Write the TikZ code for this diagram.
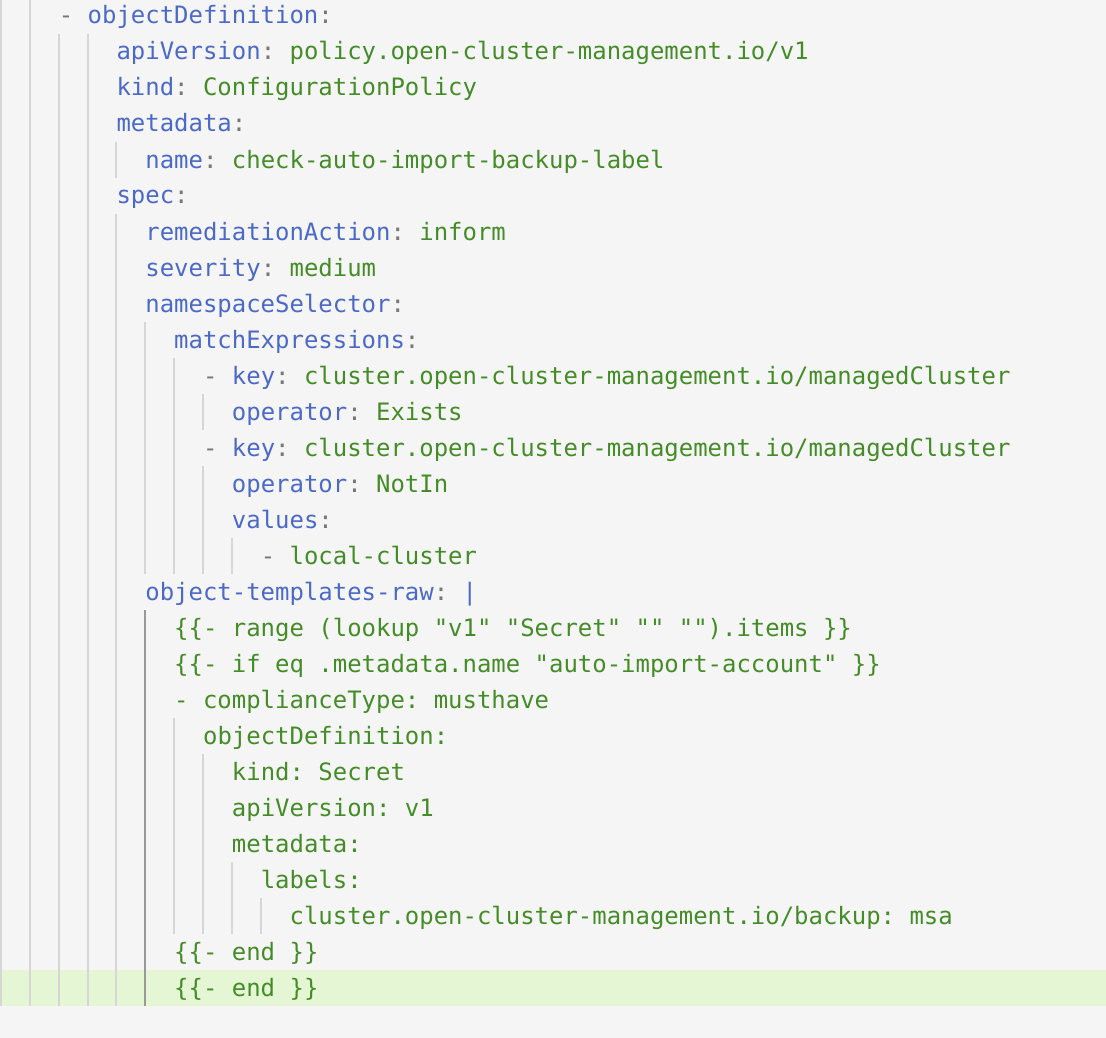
\documentclass[tikz,border=0pt]{standalone}
\usepackage{fontspec}
\setmonofont{DejaVu Sans Mono}
\usepackage{xcolor}
\definecolor{keyblue}{HTML}{4B69C6}
\definecolor{valgreen}{HTML}{448C27}
\definecolor{punct}{HTML}{777777}
\definecolor{bgcol}{HTML}{F5F5F5}
\definecolor{hlcol}{HTML}{E4F6D4}
\definecolor{guidecol}{HTML}{D6D6D6}
\definecolor{activecol}{HTML}{999999}
\newcommand{\codefont}{\ttfamily\fontsize{23.95}{36}\selectfont}
\newcommand{\kk}[1]{\textcolor{keyblue}{#1}\textcolor{punct}{:}}
\newcommand{\vv}[1]{\textcolor{valgreen}{#1}}
\newcommand{\dd}{\textcolor{punct}{-}}
\tikzset{codeline/.style={anchor=base west,inner sep=0pt,font=\codefont},
  guide/.style={guidecol,line width=2pt},
  activeguide/.style={activecol,line width=2pt}}

\begin{document}
\begin{tikzpicture}[x=1pt,y=-1pt]
\useasboundingbox (0,0) rectangle (1106,1038);
\fill[bgcol] (0,0) rectangle (1106,1038);
\fill[hlcol] (0,970) rectangle (1106,1006);
% indent guides: column / first row / last row
\foreach \c/\ra/\rb in {0/0/27,2/0/27,4/1/27,6/1/27,8/4/4,8/6/27,10/9/15,
  12/10/15,12/20/25,14/11/11,14/13/15,14/21/25,16/15/15,16/24/25,18/25/25}
  \draw[guide] ({1+\c*14.42},{-2+36*\ra}) -- ({1+\c*14.42},{34+36*\rb});
\draw[activeguide] ({1+10*14.42},610) -- ({1+10*14.42},1006);
% code lines
\node[codeline] (l0) at ({1+4*14.42},24) {\dd{} \kk{objectDefinition}};
\node[codeline] (l1) at ({1+8*14.42},60) {\kk{apiVersion} \vv{policy.open-cluster-management.io/v1}};
\node[codeline] (l2) at ({1+8*14.42},96) {\kk{kind} \vv{ConfigurationPolicy}};
\node[codeline] (l3) at ({1+8*14.42},132) {\kk{metadata}};
\node[codeline] (l4) at ({1+10*14.42},168) {\kk{name} \vv{check-auto-import-backup-label}};
\node[codeline] (l5) at ({1+8*14.42},204) {\kk{spec}};
\node[codeline] (l6) at ({1+10*14.42},240) {\kk{remediationAction} \vv{inform}};
\node[codeline] (l7) at ({1+10*14.42},276) {\kk{severity} \vv{medium}};
\node[codeline] (l8) at ({1+10*14.42},312) {\kk{namespaceSelector}};
\node[codeline] (l9) at ({1+12*14.42},348) {\kk{matchExpressions}};
\node[codeline] (l10) at ({1+14*14.42},384) {\dd{} \kk{key} \vv{cluster.open-cluster-management.io/managedCluster}};
\node[codeline] (l11) at ({1+16*14.42},420) {\kk{operator} \vv{Exists}};
\node[codeline] (l12) at ({1+14*14.42},456) {\dd{} \kk{key} \vv{cluster.open-cluster-management.io/managedCluster}};
\node[codeline] (l13) at ({1+16*14.42},492) {\kk{operator} \vv{NotIn}};
\node[codeline] (l14) at ({1+16*14.42},528) {\kk{values}};
\node[codeline] (l15) at ({1+18*14.42},564) {\dd{} \vv{local-cluster}};
\node[codeline] (l16) at ({1+10*14.42},600) {\kk{object-templates-raw} \textcolor{keyblue}{|}};
\node[codeline] (l17) at ({1+12*14.42},636) {\vv{\{\{- range (lookup "v1" "Secret" "" "").items \}\}}};
\node[codeline] (l18) at ({1+12*14.42},672) {\vv{\{\{- if eq .metadata.name "auto-import-account" \}\}}};
\node[codeline] (l19) at ({1+12*14.42},708) {\vv{- complianceType: musthave}};
\node[codeline] (l20) at ({1+14*14.42},744) {\vv{objectDefinition:}};
\node[codeline] (l21) at ({1+16*14.42},780) {\vv{kind: Secret}};
\node[codeline] (l22) at ({1+16*14.42},816) {\vv{apiVersion: v1}};
\node[codeline] (l23) at ({1+16*14.42},852) {\vv{metadata:}};
\node[codeline] (l24) at ({1+18*14.42},888) {\vv{labels:}};
\node[codeline] (l25) at ({1+20*14.42},924) {\vv{cluster.open-cluster-management.io/backup: msa}};
\node[codeline] (l26) at ({1+12*14.42},960) {\vv{\{\{- end \}\}}};
\node[codeline] (l27) at ({1+12*14.42},996) {\vv{\{\{- end \}\}}};
\end{tikzpicture}
\end{document}
